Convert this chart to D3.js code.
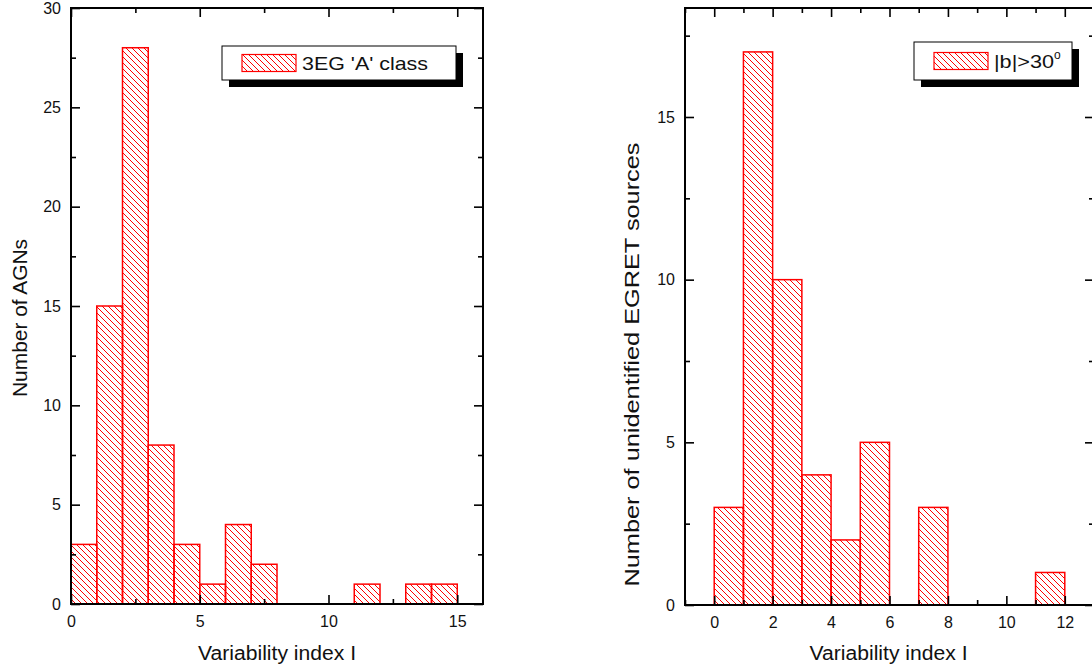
<!DOCTYPE html>
<html>
<head>
<meta charset="utf-8">
<script src="https://cdn.jsdelivr.net/npm/d3@7"></script>
<style>
  body { margin: 0; background: #fff; }
  svg { display: block; font-family: "Liberation Sans", Arial, sans-serif; }
</style>
</head>
<body>
<svg id="chart" width="1092" height="670"></svg>
<script>
// left panel: 3EG 'A' class AGNs
const agnBinStart = [0, 1, 2, 3, 4, 5, 6, 7, 11, 13, 14];
const agnCounts = [3, 15, 28, 8, 3, 1, 4, 2, 1, 1, 1];
const agnXTicks = [0, 5, 10, 15];
const agnYTicks = [0, 5, 10, 15, 20, 25, 30];

// right panel: unidentified sources |b|>30
const unidBinStart = [0, 1, 2, 3, 4, 5, 7, 11];
const unidCounts = [3, 17, 10, 4, 2, 5, 3, 1];
const unidXTicks = [0, 2, 4, 6, 8, 10, 12];
const unidYTicks = [0, 5, 10, 15];

const svg = d3.select("#chart");

// hatch pattern (backslash diagonals)
const defs = svg.append("defs");
defs.append("pattern")
    .attr("id", "hatch")
    .attr("patternUnits", "userSpaceOnUse")
    .attr("width", 6)
    .attr("height", 6)
    .append("path")
    .attr("d", "M0,0 L6,6 M-1,5 L1,7 M5,-1 L7,1")
    .attr("stroke", "#ff0000")
    .attr("stroke-width", 1);

const drawPanel = (opts) => {
    const { xDomain, xRange, yDomain, yRange, bins, counts, xTicks, xMinor, yTicks, yMinor,
        yTitle, yTitleX, yTitleLen, legend } = opts;

    const g = svg.append("g");

    const x = d3.scaleLinear().domain(xDomain).range(xRange);
    const y = d3.scaleLinear().domain(yDomain).range(yRange);

    const data = bins.map((b, i) => ({ start: b, count: counts[i] }));

    // bars
    g.selectAll("rect.bar")
        .data(data)
        .enter()
        .append("rect")
        .attr("class", "bar")
        .attr("x", d => x(d.start))
        .attr("y", d => y(d.count))
        .attr("width", d => x(d.start + 1) - x(d.start))
        .attr("height", d => y(0) - y(d.count))
        .attr("fill", "url(#hatch)")
        .attr("stroke", "#ff0000")
        .attr("stroke-width", 1.5);

    const fmt = d3.format("d");
    const styleAxis = sel => {
        sel.select(".domain").remove();
        sel.selectAll("line").attr("stroke", "#000").attr("stroke-width", 1.6);
        sel.selectAll("text").attr("fill", "#111").style("font-size", "16px");
    };

    // bottom
    g.append("g")
        .attr("transform", `translate(0,${yRange[0]})`)
        .call(d3.axisBottom(x).tickValues(xTicks).tickSize(-9).tickPadding(12).tickFormat(fmt))
        .call(styleAxis);
    g.append("g")
        .attr("transform", `translate(0,${yRange[0]})`)
        .call(d3.axisBottom(x).tickValues(xMinor).tickSize(-5).tickFormat(""))
        .call(styleAxis);
    // top
    g.append("g")
        .attr("transform", `translate(0,${yRange[1]})`)
        .call(d3.axisTop(x).tickValues(xTicks).tickSize(-9).tickFormat(""))
        .call(styleAxis);
    g.append("g")
        .attr("transform", `translate(0,${yRange[1]})`)
        .call(d3.axisTop(x).tickValues(xMinor).tickSize(-5).tickFormat(""))
        .call(styleAxis);
    // left
    g.append("g")
        .attr("transform", `translate(${xRange[0]},0)`)
        .call(d3.axisLeft(y).tickValues(yTicks).tickSize(-9).tickPadding(10).tickFormat(fmt))
        .call(styleAxis);
    g.append("g")
        .attr("transform", `translate(${xRange[0]},0)`)
        .call(d3.axisLeft(y).tickValues(yMinor).tickSize(-5).tickFormat(""))
        .call(styleAxis);
    // right
    g.append("g")
        .attr("transform", `translate(${xRange[1]},0)`)
        .call(d3.axisRight(y).tickValues(yTicks).tickSize(-9).tickFormat(""))
        .call(styleAxis);
    g.append("g")
        .attr("transform", `translate(${xRange[1]},0)`)
        .call(d3.axisRight(y).tickValues(yMinor).tickSize(-5).tickFormat(""))
        .call(styleAxis);

    // frame
    g.append("rect")
        .attr("x", xRange[0])
        .attr("y", yRange[1])
        .attr("width", xRange[1] - xRange[0])
        .attr("height", yRange[0] - yRange[1])
        .attr("fill", "none")
        .attr("stroke", "#000")
        .attr("stroke-width", 2);

    // axis titles
    g.append("text")
        .attr("x", (xRange[0] + Math.min(xRange[1], 1092)) / 2)
        .attr("y", 660)
        .attr("text-anchor", "middle")
        .attr("textLength", 158)
        .attr("lengthAdjust", "spacingAndGlyphs")
        .style("font-size", "20px")
        .attr("fill", "#111")
        .text("Variability index I");

    g.append("text")
        .attr("transform", `translate(${yTitleX},${(yRange[0] + yRange[1]) / 2 + (opts.yTitleShift || 0)}) rotate(-90)`)
        .attr("text-anchor", "middle")
        .attr("textLength", yTitleLen)
        .attr("lengthAdjust", "spacingAndGlyphs")
        .style("font-size", "20px")
        .attr("fill", "#111")
        .text(yTitle);

    // legend
    const lg = g.append("g").attr("transform", `translate(${legend.x},${legend.y})`);
    lg.append("rect")
        .attr("x", 7).attr("y", 7)
        .attr("width", legend.w).attr("height", legend.h)
        .attr("fill", "#000");
    lg.append("rect")
        .attr("width", legend.w).attr("height", legend.h)
        .attr("fill", "#fff")
        .attr("stroke", "#000")
        .attr("stroke-width", 1);
    lg.append("rect")
        .attr("x", 20).attr("y", legend.h / 2 - 8.5)
        .attr("width", 54).attr("height", 17)
        .attr("fill", "url(#hatch)")
        .attr("stroke", "#ff0000")
        .attr("stroke-width", 1.2);
    const lt = lg.append("text")
        .attr("x", 80).attr("y", legend.h / 2 + 6.5)
        .style("font-size", "19px")
        .attr("fill", "#111");
    lt.append("tspan")
        .attr("textLength", legend.len)
        .attr("lengthAdjust", "spacingAndGlyphs")
        .text(legend.label);
    if (legend.sup) {
        lt.append("tspan").attr("dy", -9).style("font-size", "12px").text(legend.sup);
    }
};

drawPanel({
    xDomain: [0, 16], xRange: [71, 483],
    yDomain: [0, 30], yRange: [604, 8],
    bins: agnBinStart, counts: agnCounts,
    xTicks: agnXTicks, xMinor: [2.5, 7.5, 12.5],
    yTicks: agnYTicks, yMinor: [2.5, 7.5, 12.5, 17.5, 22.5, 27.5],
    yTitle: "Number of AGNs", yTitleX: 27, yTitleShift: 12, yTitleLen: 158,
    legend: { x: 222, y: 46, w: 234, h: 34, label: "3EG 'A' class", len: 126 }
});

drawPanel({
    xDomain: [-1, 13], xRange: [685, 1094],
    yDomain: [0, 18.35], yRange: [605, 8],
    bins: unidBinStart, counts: unidCounts,
    xTicks: unidXTicks, xMinor: [-1, 1, 3, 5, 7, 9, 11, 13],
    yTicks: unidYTicks, yMinor: [2.5, 7.5, 12.5, 17.5],
    yTitle: "Number of unidentified EGRET sources", yTitleX: 639, yTitleShift: 58, yTitleLen: 444,
    legend: { x: 914, y: 42, w: 158, h: 38, label: "|b|>30", len: 60, sup: "o" }
});
</script>
</body>
</html>
